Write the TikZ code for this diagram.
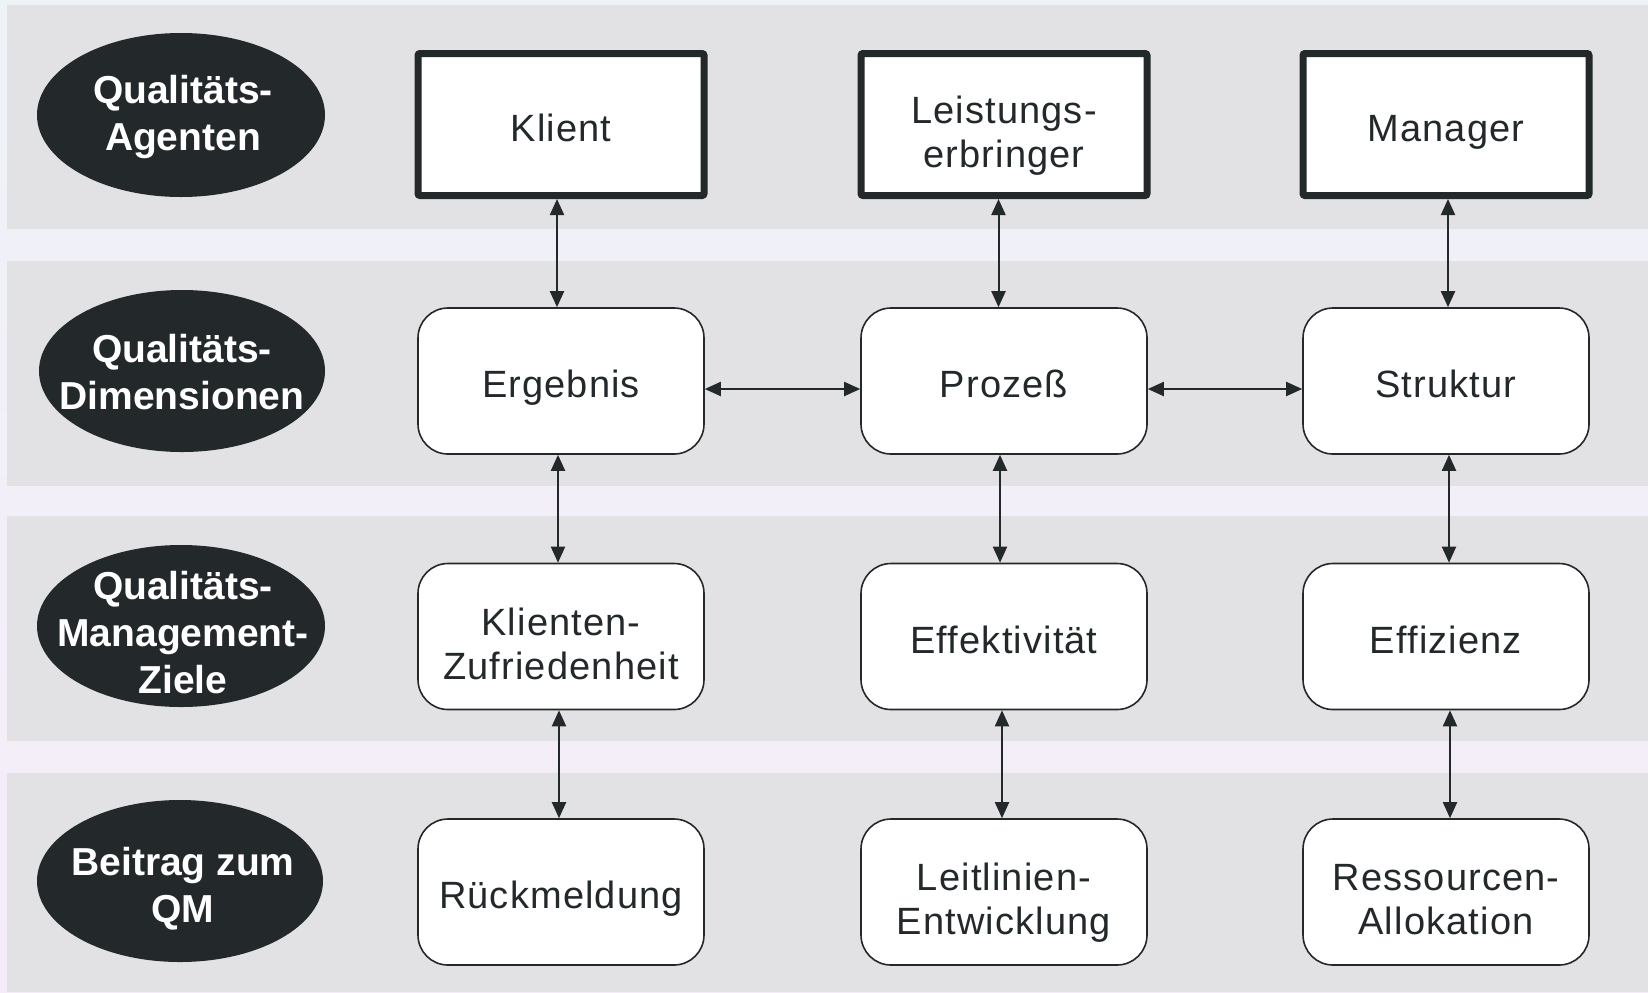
\documentclass[tikz,border=0pt]{standalone}
\usepackage{fontspec}
\setmainfont{Liberation Sans}
\newfontfamily\boxfont[LetterSpace=3]{Liberation Sans}
\usetikzlibrary{arrows.meta}
\definecolor{ink}{HTML}{23282A}
\definecolor{band}{HTML}{E2E2E4}
\definecolor{bgblue}{HTML}{C6DEF8}
\definecolor{bgmid}{HTML}{EEF3F8}
\definecolor{bglav}{HTML}{F6ECF9}
\pgfdeclareverticalshading{bgshade}{100bp}{color(0bp)=(bglav); color(25bp)=(bglav); color(77bp)=(bgmid); color(98bp)=(bgblue); color(100bp)=(bgblue)}
\newcommand{\topstrut}{\rule{0pt}{22.6pt}}
\newcommand{\botstrut}{\rule[-6pt]{0pt}{0pt}}
\newcommand{\twol}[2]{\begin{tabular}{@{}c@{}}\rule{0pt}{27.2pt}#1\\#2\end{tabular}}
\begin{document}
\begin{tikzpicture}[x=0.5pt,y=-0.5pt,
  blob/.style={fill=ink,draw=none},
  lbl/.style={inner sep=0pt,text=white,font=\bfseries\fontsize{19.5}{23.5}\selectfont,align=center},
  agent/.style={draw=ink,line width=3.5pt,fill=white,rounded corners=1pt,minimum width=143pt,minimum height=71pt,
    inner sep=0pt,text=ink,font=\boxfont\fontsize{19}{22}\selectfont},
  dimbox/.style={draw=ink,line width=0.8pt,fill=white,rounded corners=15pt,minimum width=143pt,minimum height=73pt,
    inner sep=0pt,text=ink,font=\boxfont\fontsize{19}{22}\selectfont},
  one/.style={execute at begin node=\topstrut, execute at end node=\botstrut},
  link/.style={draw=ink,line width=1pt,{Triangle[length=8pt,width=7pt]}-{Triangle[length=8pt,width=7pt]}}
]
\useasboundingbox (0,0) rectangle (1648,992);
\shade[shading=bgshade] (0,0) rectangle (1648,992);
\fill[band] (7,5) rectangle (1648,229);
\fill[band] (7,261) rectangle (1648,486);
\fill[band] (7,516) rectangle (1648,741);
\fill[band] (7,773) rectangle (1648,992);

\fill[blob] (181,115) ellipse [x radius=72pt, y radius=41pt];
\fill[blob] (182,371) ellipse [x radius=71.5pt, y radius=40.5pt];
\fill[blob] (181,626) ellipse [x radius=72pt, y radius=40.5pt];
\fill[blob] (180,881) ellipse [x radius=71.5pt, y radius=40.5pt];
\node[lbl] (l1) at (183,117) {Qualitäts-\\Agenten};
\node[lbl] (l2) at (182,372) {Qualitäts-\\Dimensionen};
\node[lbl] (l3) at (183,633) {Qualitäts-\\Management-\\Ziele};
\node[lbl] (l4) at (183,889) {Beitrag zum\\QM};

\node[agent,one] (klient) at (561,124.5) {Klient};
\node[agent] (leist) at (1004,124.5) {\twol{Leistungs-}{erbringer}};
\node[agent,one] (manager) at (1446,124.5) {Manager};

\node[dimbox,one] (erg) at (561,381) {Ergebnis};
\node[dimbox,one] (proz) at (1004,381) {Prozeß};
\node[dimbox,one] (strukt) at (1446,381) {Struktur};

\node[dimbox] (zuf) at (561,636.5) {\twol{Klienten-}{Zufriedenheit}};
\node[dimbox,one] (effek) at (1004,636.5) {Effektivität};
\node[dimbox,one] (effiz) at (1446,636.5) {Effizienz};

\node[dimbox,one] (rueck) at (561,892) {Rückmeldung};
\node[dimbox] (leit) at (1004,892) {\twol{Leitlinien-}{Entwicklung}};
\node[dimbox] (ress) at (1446,892) {\twol{Ressourcen-}{Allokation}};

\draw[link] ([xshift=-2pt]klient.south) -- ([xshift=-2pt]erg.north);
\draw[link] ([xshift=-1.5pt]erg.south) -- ([xshift=-1.5pt]zuf.north);
\draw[link] ([xshift=-1pt]zuf.south) -- ([xshift=-1pt]rueck.north);

\draw[link] ([xshift=-2.75pt]leist.south) -- ([xshift=-2.75pt]proz.north);
\draw[link] ([xshift=-2pt]proz.south) -- ([xshift=-2pt]effek.north);
\draw[link] ([xshift=-1pt]effek.south) -- ([xshift=-1pt]leit.north);

\draw[link] ([xshift=1pt]manager.south) -- ([xshift=1pt]strukt.north);
\draw[link] ([xshift=1.5pt]strukt.south) -- ([xshift=1.5pt]effiz.north);
\draw[link] ([xshift=2pt]effiz.south) -- ([xshift=2pt]ress.north);

\draw[link] ([yshift=-4pt]erg.east) -- ([yshift=-4pt]proz.west);
\draw[link] ([yshift=-4pt]proz.east) -- ([yshift=-4pt]strukt.west);
\end{tikzpicture}
\end{document}
